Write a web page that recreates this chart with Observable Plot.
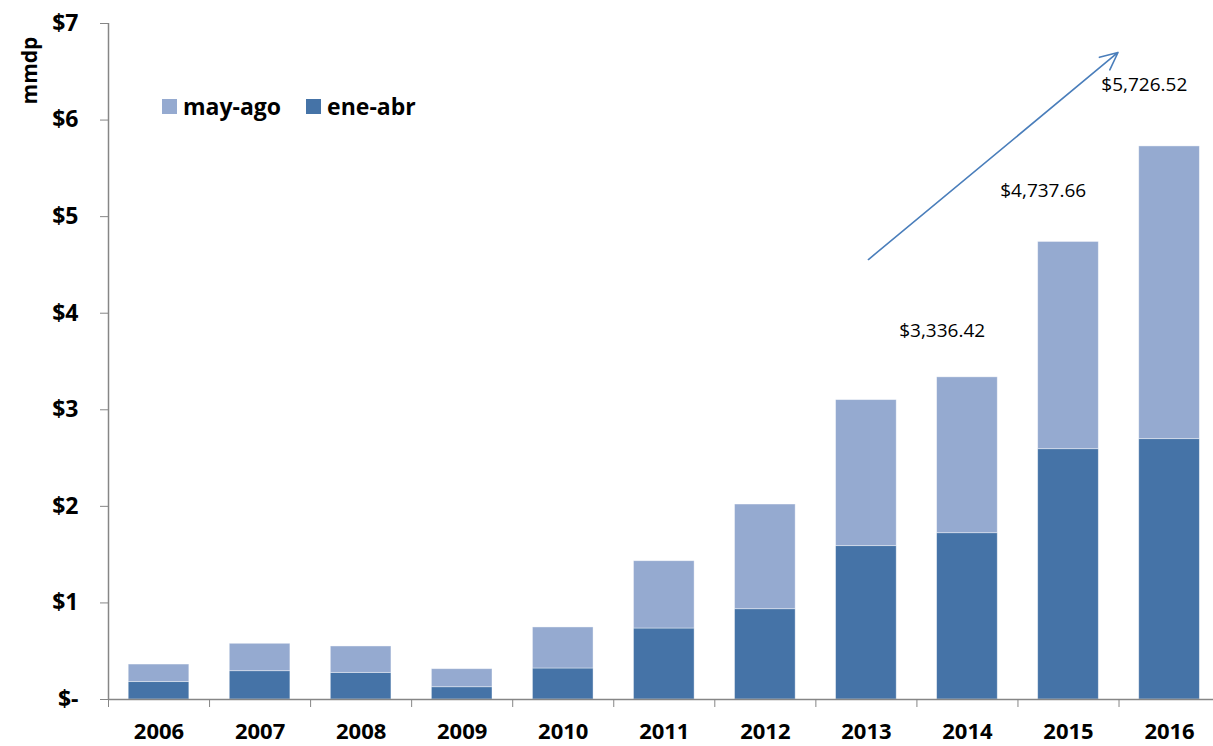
<!DOCTYPE html>
<html>
<head>
<meta charset="utf-8">
<script src="https://cdn.jsdelivr.net/npm/d3@7"></script>
<script src="https://cdn.jsdelivr.net/npm/@observablehq/plot@0.6"></script>
<style>
  html, body { margin: 0; padding: 0; background: #fff; }
  #wrap { position: relative; width: 1213px; height: 746px; font-family: "Open Sans", sans-serif; }
  #legend { position: absolute; left: 162px; top: 90px; display: flex; align-items: center; font-weight: bold; font-size: 23px; color: #000; }
  .sw { width: 15px; height: 15px; display: inline-block; margin-right: 6px; }
  .item { display: flex; align-items: center; margin-right: 25px; }
</style>
</head>
<body>
<div id="wrap"></div>
<script>
// Data (miles de millones de pesos)
const years = [2006, 2007, 2008, 2009, 2010, 2011, 2012, 2013, 2014, 2015, 2016];
const eneAbr = [0.180, 0.293, 0.276, 0.127, 0.321, 0.735, 0.935, 1.588, 1.722, 2.592, 2.696];
const mayAgo = [0.182, 0.284, 0.273, 0.187, 0.425, 0.697, 1.084, 1.512, 1.614, 2.146, 3.031];
const seriesNames = ["ene-abr", "may-ago"];
const seriesColors = ["#4573a7", "#95aad0"];
const yTicks = [0, 1, 2, 3, 4, 5, 6, 7];
const labelYears = [2014, 2015, 2016];
const labelTexts = ["$3,336.42", "$4,737.66", "$5,726.52"];

// Build table
const rows = [];
years.forEach((yr, i) => {
  rows.push({year: yr, series: "ene-abr", y1: 0, y2: eneAbr[i]});
  rows.push({year: yr, series: "may-ago", y1: eneAbr[i], y2: eneAbr[i] + mayAgo[i]});
});
const totals = years.map((yr, i) => eneAbr[i] + mayAgo[i]);
const labelOffsets = [0.48, 0.53, 0.64];
const labels = labelYears.map((yr, k) => ({
  x: yr - 0.25,
  y: totals[years.indexOf(yr)] + labelOffsets[k],
  text: labelTexts[k]
}));
const boundaries = years.map(y => y - 0.5).concat([years[years.length - 1] + 0.5]);
const trendArrow = [{x1: 2013.02, y1: 4.556, x2: 2015.49, y2: 6.70}];

const chart = Plot.plot({
  width: 1213,
  height: 746,
  marginLeft: 108,
  marginRight: 0,
  marginTop: 23,
  marginBottom: 47,
  style: {fontFamily: "'Open Sans', sans-serif", background: "#fff", overflow: "visible"},
  x: {domain: [2005.5, 2016.435], axis: null},
  y: {domain: [0, 7], axis: null},
  color: {domain: seriesNames, range: seriesColors},
  marks: [
    Plot.rect(rows, {
      x1: d => d.year - 0.3, x2: d => d.year + 0.3,
      y1: "y1", y2: "y2", fill: "series",
      stroke: "#ffffff", strokeOpacity: 0.5, strokeWidth: 0.8
    }),
    // axes lines
    Plot.ruleX([2005.5], {stroke: "#868686", strokeWidth: 1.5}),
    Plot.ruleY([0], {stroke: "#868686", strokeWidth: 1.5}),
    Plot.axisY({
      ticks: yTicks, tickSize: 8, tickPadding: 22,
      tickFormat: d => d === 0 ? "$-" : "$" + d,
      stroke: "#868686", fill: "#000",
      fontSize: 23, fontWeight: "bold", label: null
    }),
    Plot.axisX({
      ticks: years, tickSize: 0, tickPadding: 24,
      tickFormat: d => String(d),
      fill: "#000", fontSize: 22, fontWeight: "bold", label: null
    }),
    Plot.axisX({
      ticks: boundaries, tickSize: 8, tickFormat: () => "",
      stroke: "#868686", label: null
    }),
    Plot.text(["mmdp"], {
      frameAnchor: "top-left", dx: -86, dy: 47, rotate: -90,
      textAnchor: "middle", fontSize: 21, fontWeight: "bold", fill: "#000"
    }),
    Plot.text(labels, {x: "x", y: "y", text: "text", fontSize: 19, fill: "#000"}),
    Plot.arrow(trendArrow, {
      x1: "x1", y1: "y1", x2: "x2", y2: "y2",
      stroke: "#4a7ebb", strokeWidth: 1.6, headLength: 18, headAngle: 50
    })
  ]
});

const wrap = document.getElementById("wrap");
wrap.appendChild(chart);
const legend = document.createElement("div");
legend.id = "legend";
[["may-ago", seriesColors[1]], ["ene-abr", seriesColors[0]]].forEach(([name, col]) => {
  const it = document.createElement("div");
  it.className = "item";
  const sw = document.createElement("span");
  sw.className = "sw";
  sw.style.background = col;
  it.appendChild(sw);
  const t = document.createElement("span");
  t.textContent = name;
  it.appendChild(t);
  legend.appendChild(it);
});
wrap.appendChild(legend);
</script>
</body>
</html>
